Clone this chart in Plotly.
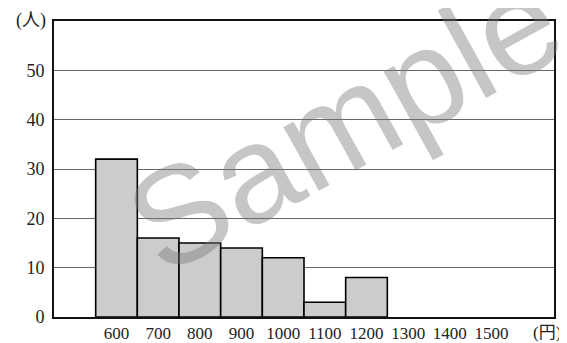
import plotly.graph_objects as go

bin_centers = [600, 700, 800, 900, 1000, 1100, 1200]
counts = [32, 16, 15, 14, 12, 3, 8]
x_tick_vals = [600, 700, 800, 900, 1000, 1100, 1200, 1300, 1400, 1500]
x_tick_text = [str(v) for v in x_tick_vals]
y_tick_vals = [0, 10, 20, 30, 40, 50]

serif = '"Liberation Serif", "Noto Sans CJK JP", serif'

fig = go.Figure()
fig.add_trace(go.Bar(
    x=bin_centers, y=counts, width=100,
    marker=dict(color="#cccccc", line=dict(color="black", width=1.6)),
))

# page body has an 8px default margin, so the figure is sized to fit after it
fig.update_layout(
    width=559, height=335,
    margin=dict(l=46, r=13, t=13, b=26),
    paper_bgcolor="white", plot_bgcolor="white",
    showlegend=False,
    font=dict(family=serif, size=18, color="#222"),
    xaxis=dict(range=[450, 1650], tickvals=x_tick_vals, ticktext=x_tick_text,
               showgrid=False, zeroline=False, showline=True, mirror=True,
               linecolor="#111", linewidth=2, ticks="", automargin=False,
               tickfont=dict(size=17, family=serif)),
    yaxis=dict(range=[0, 60], tickvals=y_tick_vals, showgrid=True,
               gridcolor="#666", gridwidth=1, zeroline=False, showline=True,
               mirror=True, linecolor="#111", linewidth=2, ticks="outside",
               ticklen=4, tickcolor="rgba(0,0,0,0)", automargin=False,
               tickfont=dict(size=18, family=serif)),
    annotations=[
        dict(text="(人)", xref="paper", yref="paper", x=-0.046, y=1.003,
             showarrow=False, xanchor="center", yanchor="middle",
             font=dict(size=18, family=serif, color="#222")),
        dict(text="(円)", xref="paper", yref="paper", x=1.0, y=-0.054,
             showarrow=False, xanchor="right", yanchor="middle",
             xshift=9, font=dict(size=17, family=serif, color="#222")),
        dict(text="Sample", xref="paper", yref="paper", x=0.58, y=0.66,
             showarrow=False, textangle=-29, xanchor="center", yanchor="middle",
             font=dict(size=138, family='"Liberation Sans", Arial, sans-serif',
                       color="rgba(120,120,120,0.42)")),
    ],
)

fig.write_html("out.html")
